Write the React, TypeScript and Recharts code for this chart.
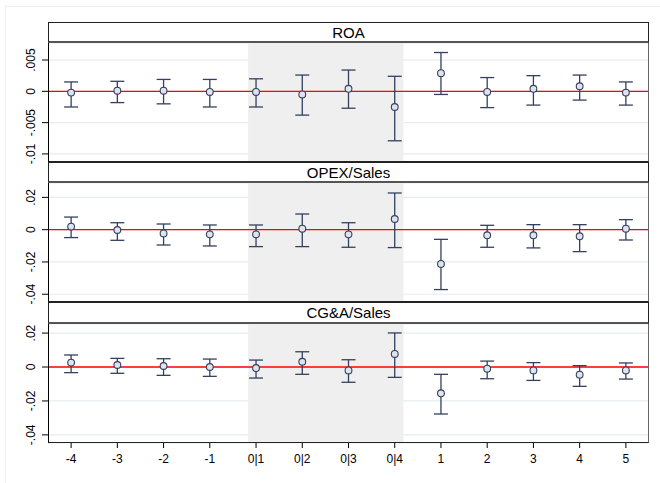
import {
  ComposedChart,
  Scatter,
  ErrorBar,
  XAxis,
  YAxis,
  CartesianGrid,
  ReferenceArea,
  ReferenceLine,
} from "recharts";

const periods = ["-4", "-3", "-2", "-1", "0|1", "0|2", "0|3", "0|4", "1", "2", "3", "4", "5"];

// point estimates and confidence bounds, read off the figure
const roaEst = [-0.0002, 0.0001, 0.0001, -0.0001, -0.0001, -0.0005, 0.0004, -0.0025, 0.0029, -0.0001, 0.0004, 0.0008, -0.0002];
const roaLo = [-0.0025, -0.0018, -0.002, -0.0025, -0.0025, -0.0038, -0.0027, -0.0079, -0.0005, -0.0026, -0.0022, -0.0014, -0.0022];
const roaHi = [0.0015, 0.0016, 0.0019, 0.0019, 0.002, 0.0026, 0.0034, 0.0024, 0.0062, 0.0022, 0.0025, 0.0026, 0.0015];

const opexEst = [0.0019, -0.0002, -0.0023, -0.0029, -0.0029, 0.0006, -0.0029, 0.0066, -0.0212, -0.0035, -0.0035, -0.0041, 0.0006];
const opexLo = [-0.0049, -0.0066, -0.0095, -0.0101, -0.0105, -0.0105, -0.0109, -0.0111, -0.0371, -0.0109, -0.0113, -0.0136, -0.0064];
const opexHi = [0.0078, 0.0043, 0.0035, 0.0029, 0.0029, 0.0097, 0.0043, 0.0227, -0.006, 0.0027, 0.0031, 0.0031, 0.0062];

const cgaEst = [0.0026, 0.0012, 0.0006, 0, -0.0006, 0.0031, -0.002, 0.0077, -0.0155, -0.001, -0.002, -0.0045, -0.002];
const cgaLo = [-0.0033, -0.0037, -0.0049, -0.0055, -0.0065, -0.0043, -0.009, -0.0061, -0.0277, -0.0069, -0.0079, -0.0114, -0.0071];
const cgaHi = [0.0071, 0.0051, 0.0049, 0.0047, 0.0041, 0.009, 0.0043, 0.0201, -0.0043, 0.0035, 0.0026, 0.0008, 0.0024];

const roaTicks = [-0.01, -0.005, 0, 0.005];
const shareTicks = [-0.04, -0.02, 0, 0.02];

const FONT = "'Liberation Sans', Arial, Helvetica, sans-serif";
const NAVY = "#34405e";
const PLOT_LEFT = 48;
const PLOT_W = 601;

const fmt = (v: number) => (v === 0 ? "0" : String(v).replace("0.", "."));

const YTick = (props: any) => {
  const { y, payload } = props;
  return (
    <text
      x={31}
      y={y}
      transform={`rotate(-90 31 ${y})`}
      textAnchor="middle"
      dominantBaseline="central"
      fontSize={12}
      fontFamily={FONT}
      fill="#000"
    >
      {fmt(payload.value)}
    </text>
  );
};

const Dot = (props: any) => (
  <circle cx={props.cx} cy={props.cy} r={3.4} fill="#dde4ee" stroke={NAVY} strokeWidth={1.1} />
);

type PanelProps = {
  title: string;
  est: number[];
  lo: number[];
  hi: number[];
  domain: [number, number];
  ticks: number[];
  titleTop: number;
  plotTop: number;
  plotBottom: number;
  showX?: boolean;
};

function Panel({ title, est, lo, hi, domain, ticks, titleTop, plotTop, plotBottom, showX }: PanelProps) {
  const data = periods.map((p, i) => ({
    x: i,
    y: est[i],
    err: [est[i] - lo[i], hi[i] - est[i]],
  }));
  const plotH = plotBottom - plotTop;
  const xH = showX ? 34 : 0;
  // room under the plot so the lowest rotated tick label is not clipped
  const below = showX ? 0 : 16;
  return (
    <>
      <div
        style={{
          position: "absolute",
          left: PLOT_LEFT,
          top: titleTop,
          width: PLOT_W,
          height: plotTop - titleTop,
          boxSizing: "border-box",
          border: "1px solid #222",
          borderBottom: "2px solid #555",
          textAlign: "center",
          fontFamily: FONT,
          fontSize: 15,
          lineHeight: `${plotTop - titleTop - 2}px`,
          background: "#fff",
        }}
      >
        {title}
      </div>
      <div style={{ position: "absolute", left: 0, top: plotTop }}>
        <ComposedChart
          width={PLOT_LEFT + PLOT_W + 11}
          height={plotH + xH + below}
          data={data}
          margin={{ top: 0, right: 11, bottom: below, left: 0 }}
        >
          <CartesianGrid vertical={false} stroke="#e6eeef" strokeWidth={1.2} />
          <XAxis
            type="number"
            dataKey="x"
            domain={[-0.5, 12.5]}
            ticks={periods.map((_, i) => i)}
            tickFormatter={(i: number) => periods[i]}
            interval={0}
            hide={!showX}
            height={xH}
            axisLine={false}
            tickSize={5}
            tickMargin={6}
            tickLine={{ stroke: "#000" }}
            tick={{ fontSize: 12, fontFamily: FONT, fill: "#000" }}
          />
          <YAxis
            type="number"
            width={PLOT_LEFT}
            domain={domain}
            ticks={ticks}
            interval={0}
            allowDataOverflow
            axisLine={false}
            tickSize={6}
            tickLine={{ stroke: "#000" }}
            tick={<YTick />}
          />
          <ReferenceArea x1={3.83} x2={7.19} fill="#efefef" fillOpacity={1} stroke="none" />
          <ReferenceLine y={0} stroke="#ff0000" strokeWidth={1.3} />
          <Scatter dataKey="y" isAnimationActive={false} shape={<Dot />}>
            <ErrorBar dataKey="err" direction="y" width={7} stroke={NAVY} strokeWidth={1.3} />
          </Scatter>
        </ComposedChart>
      </div>
      <div
        style={{
          position: "absolute",
          left: PLOT_LEFT,
          top: plotTop,
          width: PLOT_W,
          height: plotH,
          boxSizing: "border-box",
          borderLeft: "1px solid #000",
          borderRight: "1px solid #666",
          borderBottom: "1px solid #222",
          pointerEvents: "none",
        }}
      />
    </>
  );
}

export default function App() {
  return (
    <div
      style={{
        position: "absolute",
        left: 0,
        top: 0,
        width: 660,
        height: 483,
        background: "#fff",
        overflow: "hidden",
      }}
    >
      <div
        style={{
          position: "absolute",
          left: 5,
          top: 6,
          width: 660,
          height: 480,
          borderTop: "1px solid #eef0f0",
          borderLeft: "1px solid #eef0f0",
        }}
      />
      <Panel
        title="ROA"
        est={roaEst}
        lo={roaLo}
        hi={roaHi}
        domain={[-0.01129, 0.00772]}
        ticks={roaTicks}
        titleTop={22}
        plotTop={43}
        plotBottom={162}
      />
      <Panel
        title="OPEX/Sales"
        est={opexEst}
        lo={opexLo}
        hi={opexHi}
        domain={[-0.0448, 0.0289]}
        ticks={shareTicks}
        titleTop={162}
        plotTop={183}
        plotBottom={302}
      />
      <Panel
        title="CG&A/Sales"
        est={cgaEst}
        lo={cgaLo}
        hi={cgaHi}
        domain={[-0.0448, 0.02537]}
        ticks={shareTicks}
        titleTop={302}
        plotTop={324}
        plotBottom={443}
        showX
      />
    </div>
  );
}
